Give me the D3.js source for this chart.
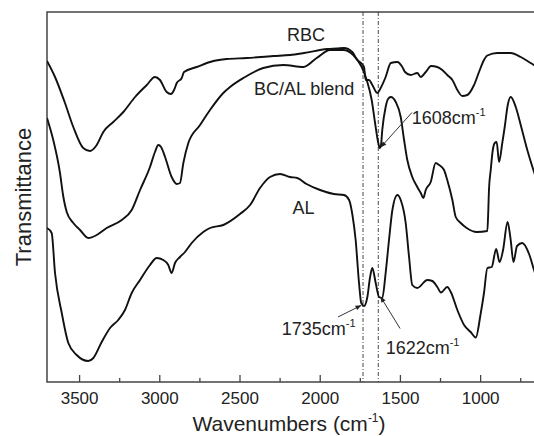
<!DOCTYPE html>
<html>
<head>
<meta charset="utf-8">
<script src="https://cdn.jsdelivr.net/npm/d3@7"></script>
<style>
  body { margin: 0; background: #fff; }
  text { font-family: "Liberation Sans", Arial, sans-serif; fill: #222; }
</style>
</head>
<body>
<div id="chart"></div>
<script>
// spectra: [wavenumber (cm-1), transmittance (arbitrary, offset)]
var rbcSpectrum = [
  [3700, 32.1], [3650, 30.5], [3588, 27.9], [3536, 25.5], [3474, 23.4], [3432, 23.1],
  [3390, 23.7], [3349, 25.0], [3287, 26.0], [3224, 27.0], [3151, 28.5], [3078, 29.7],
  [3027, 30.5], [2996, 30.2], [2954, 29.0], [2927, 28.8], [2908, 29.2], [2891, 29.9],
  [2860, 30.4], [2846, 31.0], [2767, 31.5], [2663, 32.1], [2580, 32.3], [2455, 32.4],
  [2289, 32.6], [2185, 32.7], [2098, 32.9], [1953, 33.3], [1892, 33.35], [1849, 33.4],
  [1797, 33.0], [1766, 32.2], [1736, 31.8], [1724, 31.5], [1713, 30.2], [1693, 30.2],
  [1672, 29.7], [1641, 28.9], [1620, 29.4], [1589, 30.5], [1557, 31.9], [1516, 32.0],
  [1485, 31.5], [1468, 31.0], [1433, 30.7], [1392, 30.9], [1370, 30.5], [1339, 31.0],
  [1306, 31.6], [1267, 31.5], [1236, 31.2], [1205, 30.7], [1173, 30.2], [1142, 29.2],
  [1111, 28.6], [1080, 28.7], [1038, 29.7], [1007, 31.0], [976, 32.2], [955, 32.65],
  [893, 32.9], [809, 32.9], [747, 32.5], [685, 31.9], [627, 31.3]
];

var blendSpectrum = [
  [3700, 26.4], [3661, 24.2], [3619, 20.9], [3600, 18.7], [3577, 17.0], [3536, 15.9],
  [3494, 15.2], [3443, 14.4], [3390, 14.7], [3328, 15.4], [3234, 16.2], [3172, 17.2],
  [3120, 19.2], [3058, 21.5], [3027, 23.0], [3006, 23.7], [2989, 23.5], [2964, 22.5],
  [2923, 20.5], [2891, 19.8], [2871, 19.9], [2850, 21.9], [2819, 23.9], [2746, 25.7],
  [2684, 27.2], [2601, 28.9], [2559, 29.5], [2476, 30.4], [2352, 31.4], [2227, 31.7],
  [2102, 31.5], [2019, 32.4], [1936, 33.2], [1853, 33.2], [1791, 32.7], [1738, 31.5],
  [1707, 30.2], [1676, 28.2], [1655, 25.9], [1635, 23.9], [1626, 23.4], [1618, 23.7],
  [1610, 25.2], [1589, 27.5], [1574, 28.3], [1557, 28.5], [1526, 28.0], [1495, 26.5],
  [1474, 24.2], [1454, 22.2], [1423, 20.5], [1392, 19.5], [1370, 18.9], [1354, 18.4],
  [1339, 19.2], [1308, 20.0], [1277, 21.9], [1256, 21.7], [1225, 21.2], [1205, 20.2],
  [1173, 18.2], [1152, 16.5], [1121, 15.9], [1084, 15.4], [1021, 15.0], [955, 15.1],
  [949, 17.2], [945, 19.2], [934, 21.2], [921, 23.2], [909, 23.9], [897, 24.0],
  [882, 22.0], [862, 23.9], [845, 25.7], [830, 27.5], [809, 28.5], [778, 27.5],
  [747, 25.7], [706, 23.2], [664, 21.0], [602, 18.2]
];

var alSpectrum = [
  [3700, 15.4], [3671, 14.9], [3650, 10.9], [3608, 6.9], [3567, 3.9], [3515, 2.7],
  [3443, 2.1], [3411, 2.4], [3359, 4.0], [3307, 5.4], [3256, 6.2], [3214, 7.2],
  [3172, 8.9], [3120, 10.2], [3058, 11.7], [3016, 12.4], [2975, 12.2], [2944, 11.7],
  [2923, 10.9], [2902, 11.9], [2871, 12.5], [2840, 13.0], [2798, 13.9], [2726, 15.0],
  [2684, 15.4], [2601, 15.7], [2497, 16.8], [2434, 17.7], [2372, 19.4], [2310, 20.5],
  [2247, 20.8], [2185, 20.5], [2140, 20.4], [2082, 19.8], [1998, 19.2], [1912, 18.8],
  [1849, 18.7], [1817, 18.2], [1796, 16.7], [1776, 14.2], [1755, 9.9], [1741, 7.9],
  [1724, 7.6], [1703, 8.5], [1686, 10.5], [1672, 11.4], [1651, 9.9], [1630, 8.5],
  [1610, 8.4], [1589, 10.9], [1568, 14.2], [1547, 17.2], [1516, 18.7], [1495, 18.2],
  [1464, 15.9], [1443, 12.5], [1423, 9.7], [1392, 9.4], [1329, 10.2], [1298, 10.1],
  [1267, 9.5], [1244, 8.95], [1205, 9.5], [1183, 9.0], [1142, 7.2], [1100, 5.7],
  [1059, 5.0], [1027, 4.45], [998, 6.7], [976, 8.9], [955, 11.4], [928, 11.5],
  [900, 13.3], [879, 12.0], [857, 13.2], [829, 16.0], [811, 14.4], [792, 12.0],
  [770, 13.6], [737, 13.9], [695, 12.8], [664, 11.2], [602, 8.2]
];

var majorTicks = [3500, 3000, 2500, 2000, 1500, 1000];
var minorTicks = [3250, 2750, 2250, 1750, 1250, 750];
var markerLines = [1730, 1635];

// labels: [text, superscript, wavenumber, transmittance, anchor]
var curveLabels = [
  ["RBC", "", 2085, 34.15, "middle"],
  ["BC/AL blend", "", 2410, 28.75, "start"],
  ["AL", "", 2170, 16.8, "start"]
];
var peakLabels = [
  ["1608cm", "-1", 1426, 25.8],
  ["1735cm", "-1", 2237, 4.7],
  ["1622cm", "-1", 1589, 2.8]
];
// arrows: [fromWn, fromT, toWn, toT]
var peakArrows = [
  [1425, 26.95, 1618, 23.5],
  [1886, 6.5, 1743, 7.65],
  [1499, 5.35, 1620, 8.5]
];

var width = 534, height = 436;

var svg = d3.select("#chart")
  .append("svg")
  .attr("width", width)
  .attr("height", height);

svg.append("rect").attr("width", width).attr("height", height).attr("fill", "#fff");

var x = d3.scaleLinear().domain([3700, 600]).range([47, 544.3]);
var y = d3.scaleLinear().domain([0, 37]).range([382, 12]);

svg.append("defs").append("clipPath").attr("id", "plotclip")
  .append("rect")
  .attr("x", x(3700)).attr("y", y(37))
  .attr("width", x(600) - x(3700)).attr("height", y(0) - y(37));

svg.append("defs").append("marker")
  .attr("id", "arrow")
  .attr("viewBox", "0 0 10 10")
  .attr("refX", 9).attr("refY", 5)
  .attr("markerWidth", 7).attr("markerHeight", 6)
  .attr("orient", "auto")
  .append("path")
  .attr("d", "M0,1 L10,5 L0,9 Z")
  .attr("fill", "#222");

// frame (right side falls outside the picture)
svg.append("rect")
  .attr("x", x(3700)).attr("y", y(37))
  .attr("width", x(600) - x(3700)).attr("height", y(0) - y(37))
  .attr("fill", "none")
  .attr("stroke", "#444")
  .attr("stroke-width", 1.5);

// dash-dot reference lines
svg.append("g").selectAll("line")
  .data(markerLines)
  .join("line")
  .attr("x1", d => x(d)).attr("x2", d => x(d))
  .attr("y1", y(37)).attr("y2", y(0))
  .attr("stroke", "#333")
  .attr("stroke-width", 0.9)
  .attr("stroke-dasharray", "4,2,1,2");

// spectra
var line = d3.line()
  .x(d => x(d[0]))
  .y(d => y(d[1]))
  .curve(d3.curveMonotoneX);

var plot = svg.append("g").attr("clip-path", "url(#plotclip)");
[rbcSpectrum, blendSpectrum, alSpectrum].forEach(function (s) {
  plot.append("path")
    .datum(s)
    .attr("d", line)
    .attr("fill", "none")
    .attr("stroke", "#111")
    .attr("stroke-width", 1.9)
    .attr("stroke-linejoin", "round");
});

// x axis, ticks pointing inward
var axisMajor = svg.append("g")
  .attr("transform", "translate(0," + y(0) + ")")
  .call(d3.axisBottom(x).tickValues(majorTicks).tickFormat(d3.format("d"))
    .tickSizeInner(-7).tickSizeOuter(0).tickPadding(10));
axisMajor.select(".domain").remove();
axisMajor.selectAll("line").attr("stroke", "#444").attr("stroke-width", 1.3);
axisMajor.selectAll("text")
  .style("font-family", "'Liberation Sans', Arial, sans-serif")
  .style("font-size", "17px")
  .attr("fill", "#222");

var axisMinor = svg.append("g")
  .attr("transform", "translate(0," + y(0) + ")")
  .call(d3.axisBottom(x).tickValues(minorTicks).tickSizeInner(-4).tickSizeOuter(0).tickFormat(""));
axisMinor.select(".domain").remove();
axisMinor.selectAll("line").attr("stroke", "#444").attr("stroke-width", 1.3);

// axis titles
var xTitle = svg.append("text")
  .attr("x", 289)
  .attr("y", 431)
  .attr("text-anchor", "middle")
  .style("font-size", "21px");
xTitle.append("tspan").text("Wavenumbers (cm");
xTitle.append("tspan").attr("dy", -9).style("font-size", "12px").text("-1");
xTitle.append("tspan").attr("dy", 9).text(")");

svg.append("text")
  .attr("transform", "translate(31," + (y(0) + y(37)) / 2 + ") rotate(-90)")
  .attr("text-anchor", "middle")
  .style("font-size", "22px")
  .text("Transmittance");

// curve labels
svg.append("g").selectAll("text")
  .data(curveLabels)
  .join("text")
  .attr("x", d => x(d[2]))
  .attr("y", d => y(d[3]))
  .attr("text-anchor", d => d[4])
  .style("font-size", "18px")
  .text(d => d[0]);

// peak labels with superscript
peakLabels.forEach(function (d) {
  var t = svg.append("text")
    .attr("x", x(d[2]))
    .attr("y", y(d[3]))
    .style("font-size", "18px");
  t.append("tspan").text(d[0]);
  t.append("tspan").attr("dy", -8).style("font-size", "11px").text(d[1]);
});

// arrows
svg.append("g").selectAll("line")
  .data(peakArrows)
  .join("line")
  .attr("x1", d => x(d[0])).attr("y1", d => y(d[1]))
  .attr("x2", d => x(d[2])).attr("y2", d => y(d[3]))
  .attr("stroke", "#333")
  .attr("stroke-width", 1)
  .attr("marker-end", "url(#arrow)");
</script>
</body>
</html>
